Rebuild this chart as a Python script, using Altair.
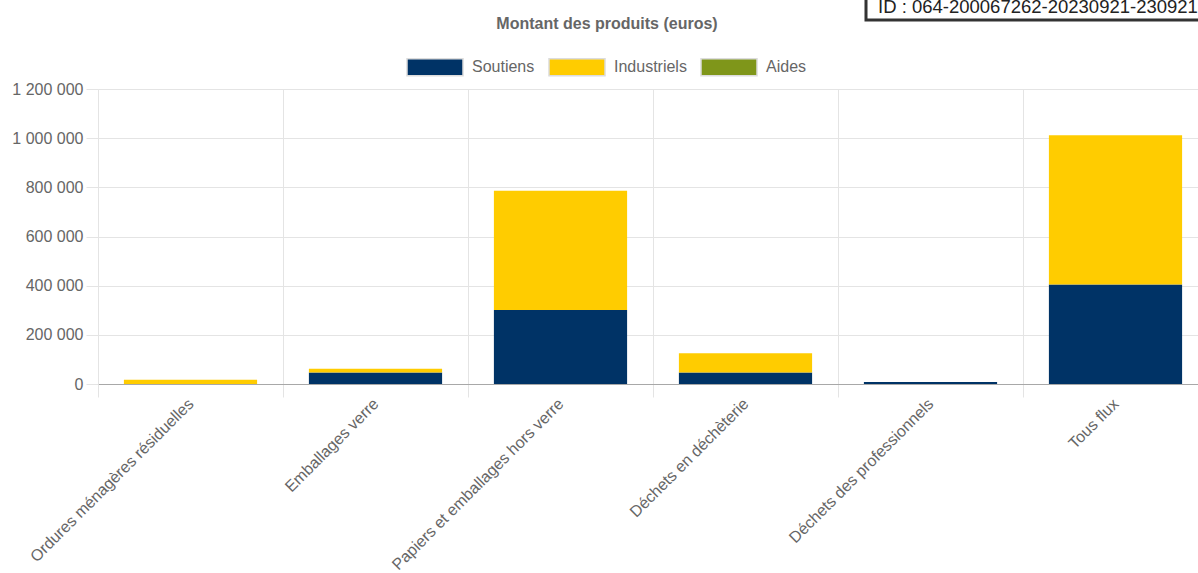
import altair as alt
import pandas as pd

# Flux categories on the x axis
categories = [
    "Ordures ménagères résiduelles",
    "Emballages verre",
    "Papiers et emballages hors verre",
    "Déchets en déchèterie",
    "Déchets des professionnels",
    "Tous flux",
]

# Amounts per series (euros)
series = ["Soutiens", "Industriels", "Aides"]
soutiens = [0, 47000, 301000, 47000, 8000, 405000]
industriels = [17000, 15000, 485000, 78000, 0, 607000]
aides = [0, 0, 0, 0, 0, 0]
series_colors = ["#003366", "#FFCC00", "#7F961A"]

y_ticks = [0, 200000, 400000, 600000, 800000, 1000000, 1200000]

stamp_label = ["ID : 064-200067262-20230921-230921"]

FONT = "Liberation Sans"
GRID = "#e4e4e4"
TEXT = "#666666"

rows = []
for i, cat in enumerate(categories):
    for j, vals in enumerate([soutiens, industriels, aides]):
        rows.append({"flux": cat, "serie": series[j], "montant": vals[i], "ordre": j})
df = pd.DataFrame(rows)

# Wide rectangle legend swatch (custom path in the [-1, 1] box)
swatch = "M-1,-0.304L1,-0.304L1,0.304L-1,0.304Z"

bars = alt.Chart(df).mark_bar(width={"band": 0.72}).encode(
    x=alt.X(
        "flux:N",
        sort=categories,
        scale=alt.Scale(range=[0, 1110], paddingInner=0, paddingOuter=0),
        axis=alt.Axis(
            title=None,
            labelAngle=-45,
            labelAlign="right",
            labelBaseline="middle",
            labelFont=FONT,
            labelFontSize=16,
            labelColor=TEXT,
            labelPadding=4,
            labelLimit=0,
            tickBand="extent",
            tickSize=13,
            tickColor=GRID,
            grid=True,
            gridColor=GRID,
            domainColor="#a8a8a8",
        ),
    ),
    y=alt.Y(
        "montant:Q",
        stack="zero",
        scale=alt.Scale(domain=[0, 1200000], nice=False),
        axis=alt.Axis(
            title=None,
            values=y_ticks,
            labelExpr="join(split(format(datum.value, ','), ','), ' ')",
            labelFont=FONT,
            labelFontSize=16,
            labelColor=TEXT,
            labelPadding=3,
            tickSize=12,
            tickColor=GRID,
            grid=True,
            gridColor=GRID,
            domainColor=GRID,
        ),
    ),
    color=alt.Color(
        "serie:N",
        scale=alt.Scale(domain=series, range=series_colors),
        legend=alt.Legend(
            title=None,
            orient="none",
            legendX=308,
            legendY=-51,
            direction="horizontal",
            symbolType=swatch,
            symbolSize=3136,
            symbolStrokeColor="#dcdcdc",
            symbolStrokeWidth=1.5,
            symbolOpacity=1,
            labelFont=FONT,
            labelFontSize=16,
            labelColor=TEXT,
            labelOffset=8,
            columnPadding=11,
            padding=0,
        ),
    ),
    order=alt.Order("ordre:Q"),
)

stamp_df = pd.DataFrame({"t": stamp_label})
stamp_box = alt.Chart(stamp_df).mark_rect(
    fill="white", stroke="#333333", strokeWidth=3
).encode(
    x=alt.value(768), x2=alt.value(1200), y=alt.value(-100), y2=alt.value(-69)
)
stamp_text = alt.Chart(stamp_df).mark_text(
    align="left", baseline="alphabetic", font=FONT, fontSize=18.5, color="#222222"
).encode(x=alt.value(780), y=alt.value(-76), text="t:N")

chart = (
    alt.layer(bars, stamp_box, stamp_text)
    .properties(
        width=1100,
        height=295,
        autosize="none",
        padding={"left": 98, "top": 89, "right": 0, "bottom": 189},
        title=alt.TitleParams(
            "Montant des produits (euros)",
            font=FONT,
            fontSize=16,
            fontWeight="bold",
            color=TEXT,
            anchor="middle",
            dx=-41,
            dy=44,
            offset=0,
        ),
    )
    .configure_view(stroke=None)
)

chart.save("out.html", embed_options={"renderer": "svg", "actions": False})
